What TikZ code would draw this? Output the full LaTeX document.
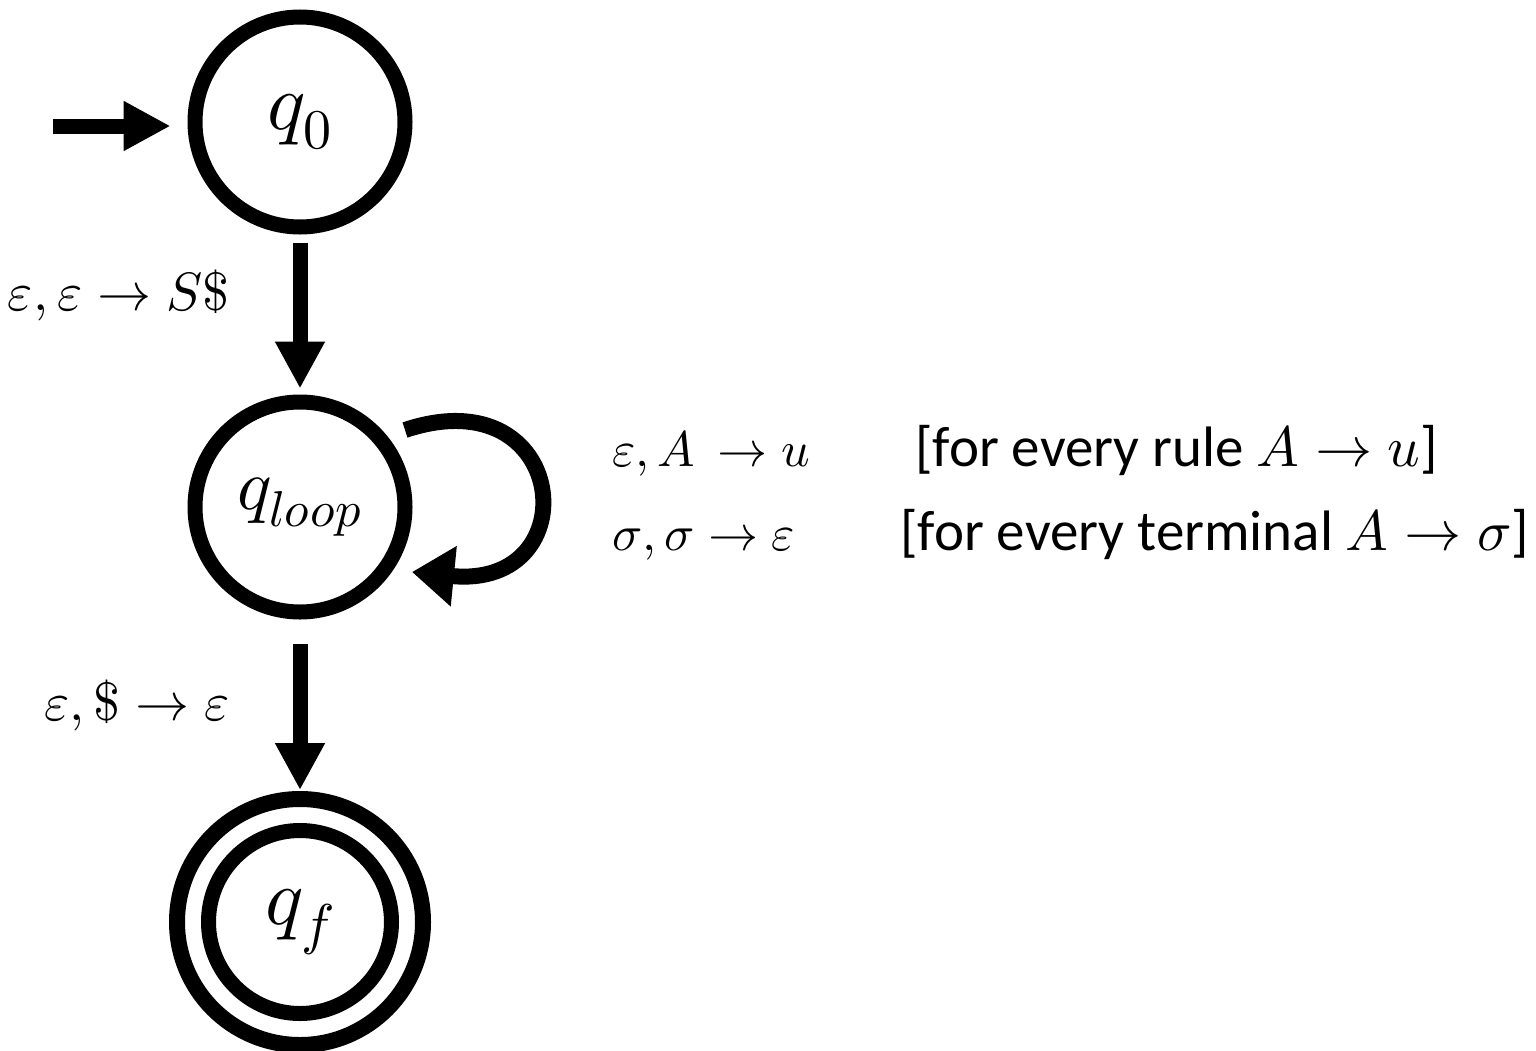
\documentclass[tikz,border=0pt]{standalone}
\usepackage{fontspec}
\usepackage{unicode-math}
\setmainfont{Carlito}
\setmathfont{Latin Modern Math}
\usetikzlibrary{arrows.meta}
\begin{document}
\begin{tikzpicture}[x=0.5pt,y=-0.5pt,
  state/.style={circle,draw,line width=7.5pt,inner sep=0pt,minimum size=105pt,font=\fontsize{40}{48}\selectfont},
  edge/.style={line width=7.5pt,-{Triangle[length=23.5pt,width=23.5pt]}},
  lbl/.style={inner sep=0pt,font=\fontsize{27}{32}\selectfont},
  mth/.style={inner sep=0pt,font=\fontsize{25}{30}\selectfont},
  txt/.style={inner sep=0pt,font=\fontsize{28.5}{34}\selectfont}]
\useasboundingbox (0,0) rectangle (1536,1050);
\node[state] (q0) at (300,122) {$q_0$};
\node[state,font=\fontsize{36}{44}\selectfont] (ql) at (300,507) {$q_{loop}$};
\node[state,line width=8pt,minimum size=123pt] (qf) at (300,922) {};
\node[state,minimum size=91.5pt] (qfi) at (300,922) {$q_f$};
\coordinate (init) at (53,126);
\draw[edge] (init) -- (q0.west |- init) [shorten >=8.5pt];
\draw[edge,shorten <=4pt,shorten >=3pt] (q0) -- (ql);
\draw[edge,shorten <=12pt,shorten >=0.5pt] (ql) -- (qf);
\coordinate (ls) at (405,430);
\coordinate (le) at (412,572);
\draw[line width=8pt,-{Triangle[length=21pt,width=29pt]}] (ls) .. controls (570,375) and (590,590) .. (le);
\node[lbl,anchor=base east] (l1) at (230,310) {$\varepsilon,\varepsilon\rightarrow S\$$};
\node[lbl,anchor=base east] (l2) at (230,720) {$\varepsilon,\$\rightarrow\varepsilon$};
\node[mth,anchor=base west] (r1a) at (612,466) {$\varepsilon,A\,\rightarrow u$};
\node[txt,anchor=base west] (r1b) at (915,466) {[for every rule $A\rightarrow u$]};
\node[mth,anchor=base west] (r2a) at (612,550) {$\sigma,\sigma\rightarrow\varepsilon$};
\node[txt,anchor=base west] (r2b) at (900,550) {[for every terminal $A\rightarrow\sigma$]};
\end{tikzpicture}
\end{document}
